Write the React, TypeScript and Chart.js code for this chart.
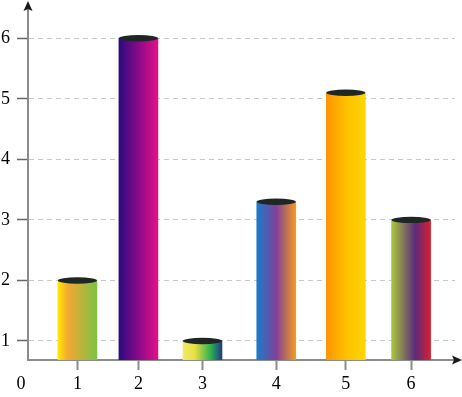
import React, { useEffect, useRef } from "react";
import { Chart, registerables } from "chart.js";

Chart.register(...registerables);

const categories = ["1", "2", "3", "4", "5", "6"];
const xValues = [0.81, 1.81, 2.86, 4.07, 5.21, 6.28];
const values = [2, 6, 1, 3.3, 5.1, 3];
const yTicks = [1, 2, 3, 4, 5, 6];

const gradientStops: string[][] = [
  ["#ffe800", "#f4a832", "#7cc243"],
  ["#2c0a80", "#8a0a88", "#e2108a"],
  ["#f2ea6a", "#e8e040", "#2ab04e", "#1e3a8c"],
  ["#1a7cc8", "#80409a", "#f29c1e"],
  ["#ff9500", "#ffc000", "#ffd600"],
  ["#a8c83a", "#5c2a7c", "#d42030"],
];
const stopPositions: number[][] = [
  [0, 0.25, 1],
  [0, 0.5, 1],
  [0, 0.3, 0.72, 1],
  [0, 0.5, 1],
  [0, 0.5, 1],
  [0, 0.6, 1],
];

const BAR_W = 39;
const FONT = { family: "'Liberation Serif', 'Times New Roman', serif", size: 18 };

const decorPlugin = {
  id: "decor",
  afterDatasetsDraw(chart: any) {
    const ctx = chart.ctx;
    const meta = chart.getDatasetMeta(0);
    ctx.save();
    meta.data.forEach((bar: any) => {
      ctx.beginPath();
      ctx.ellipse(bar.x, bar.y, bar.width / 2, 3.2, 0, 0, Math.PI * 2);
      ctx.fillStyle = "#1f2626";
      ctx.fill();
    });
    ctx.restore();
  },
  afterDraw(chart: any) {
    const ctx = chart.ctx;
    const { left, top, right, bottom } = chart.chartArea;
    ctx.save();
    ctx.fillStyle = "#1a1a1a";
    // y arrow
    ctx.beginPath();
    ctx.moveTo(left, top - 6);
    ctx.lineTo(left - 4.5, top + 4);
    ctx.lineTo(left, top + 2);
    ctx.lineTo(left + 4.5, top + 4);
    ctx.closePath();
    ctx.fill();
    // x arrow
    ctx.beginPath();
    ctx.moveTo(right + 7, bottom);
    ctx.lineTo(right - 3, bottom - 4.5);
    ctx.lineTo(right - 1, bottom);
    ctx.lineTo(right - 3, bottom + 4.5);
    ctx.closePath();
    ctx.fill();
    // origin label
    ctx.fillStyle = "#000";
    ctx.font = `${FONT.size}px ${FONT.family}`;
    ctx.textAlign = "center";
    ctx.textBaseline = "middle";
    ctx.fillText("0", left - 7, bottom + 24);
    ctx.restore();
  },
};

export default function App() {
  const canvasRef = useRef<HTMLCanvasElement | null>(null);

  useEffect(() => {
    const canvas = canvasRef.current;
    if (!canvas) return;
    const chart = new Chart(canvas, {
      type: "bar",
      data: {
        datasets: [
          {
            data: xValues.map((x, i) => ({ x, y: values[i] })),
            barThickness: BAR_W,
            borderWidth: 0,
            backgroundColor: (c: any) => {
              const ch = c.chart;
              if (!ch.chartArea || c.dataIndex == null || !ch.scales.x) return "#888";
              const i = c.dataIndex;
              const px = ch.scales.x.getPixelForValue(xValues[i]);
              const g = ch.ctx.createLinearGradient(px - BAR_W / 2, 0, px + BAR_W / 2, 0);
              gradientStops[i].forEach((col, k) => g.addColorStop(stopPositions[i][k], col));
              return g;
            },
          },
        ],
      },
      options: {
        animation: false,
        responsive: false,
        events: [],
        layout: { padding: { top: 7, right: 7, left: 0, bottom: 0 } },
        plugins: { legend: { display: false }, tooltip: { enabled: false } },
        scales: {
          x: {
            type: "linear",
            min: 0,
            max: 7,
            offset: false,
            afterBuildTicks: (s: any) => {
              s.ticks = xValues.map((v) => ({ value: v }));
            },
            afterFit: (s: any) => {
              s.height = 37;
              s.paddingLeft = 0;
              s.paddingRight = 0;
            },
            ticks: {
              autoSkip: false,
              maxRotation: 0,
              padding: 3,
              color: "#000",
              font: FONT,
              callback: (_v: any, idx: number) => categories[idx],
            },
            grid: {
              offset: false,
              drawOnChartArea: false,
              drawTicks: true,
              tickLength: 10,
              tickColor: "#8c8c8c",
              tickWidth: 2,
            },
            border: { display: true, color: "#8c8c8c", width: 2 },
          },
          y: {
            type: "linear",
            min: 0.686,
            max: 6.516,
            afterBuildTicks: (s: any) => {
              s.ticks = yTicks.map((v) => ({ value: v }));
            },
            afterFit: (s: any) => {
              s.width = 28;
              s.paddingTop = 0;
              s.paddingBottom = 0;
            },
            ticks: {
              padding: 7,
              color: "#000",
              font: FONT,
              callback: (v: any) => String(v),
            },
            grid: {
              color: "#c8c8c8",
              lineWidth: 1,
              drawTicks: true,
              tickLength: 11,
              tickColor: "#666",
              tickWidth: 1.5,
              tickBorderDash: [],
            },
            border: { display: true, color: "#8c8c8c", width: 2, dash: [5, 4] },
          },
        },
      },
      plugins: [decorPlugin],
    } as any);
    return () => chart.destroy();
  }, []);

  return (
    <div style={{ position: "fixed", left: 0, top: 0, width: 462, height: 397, background: "#fff" }}>
      <canvas ref={canvasRef} width={462} height={397} />
    </div>
  );
}
